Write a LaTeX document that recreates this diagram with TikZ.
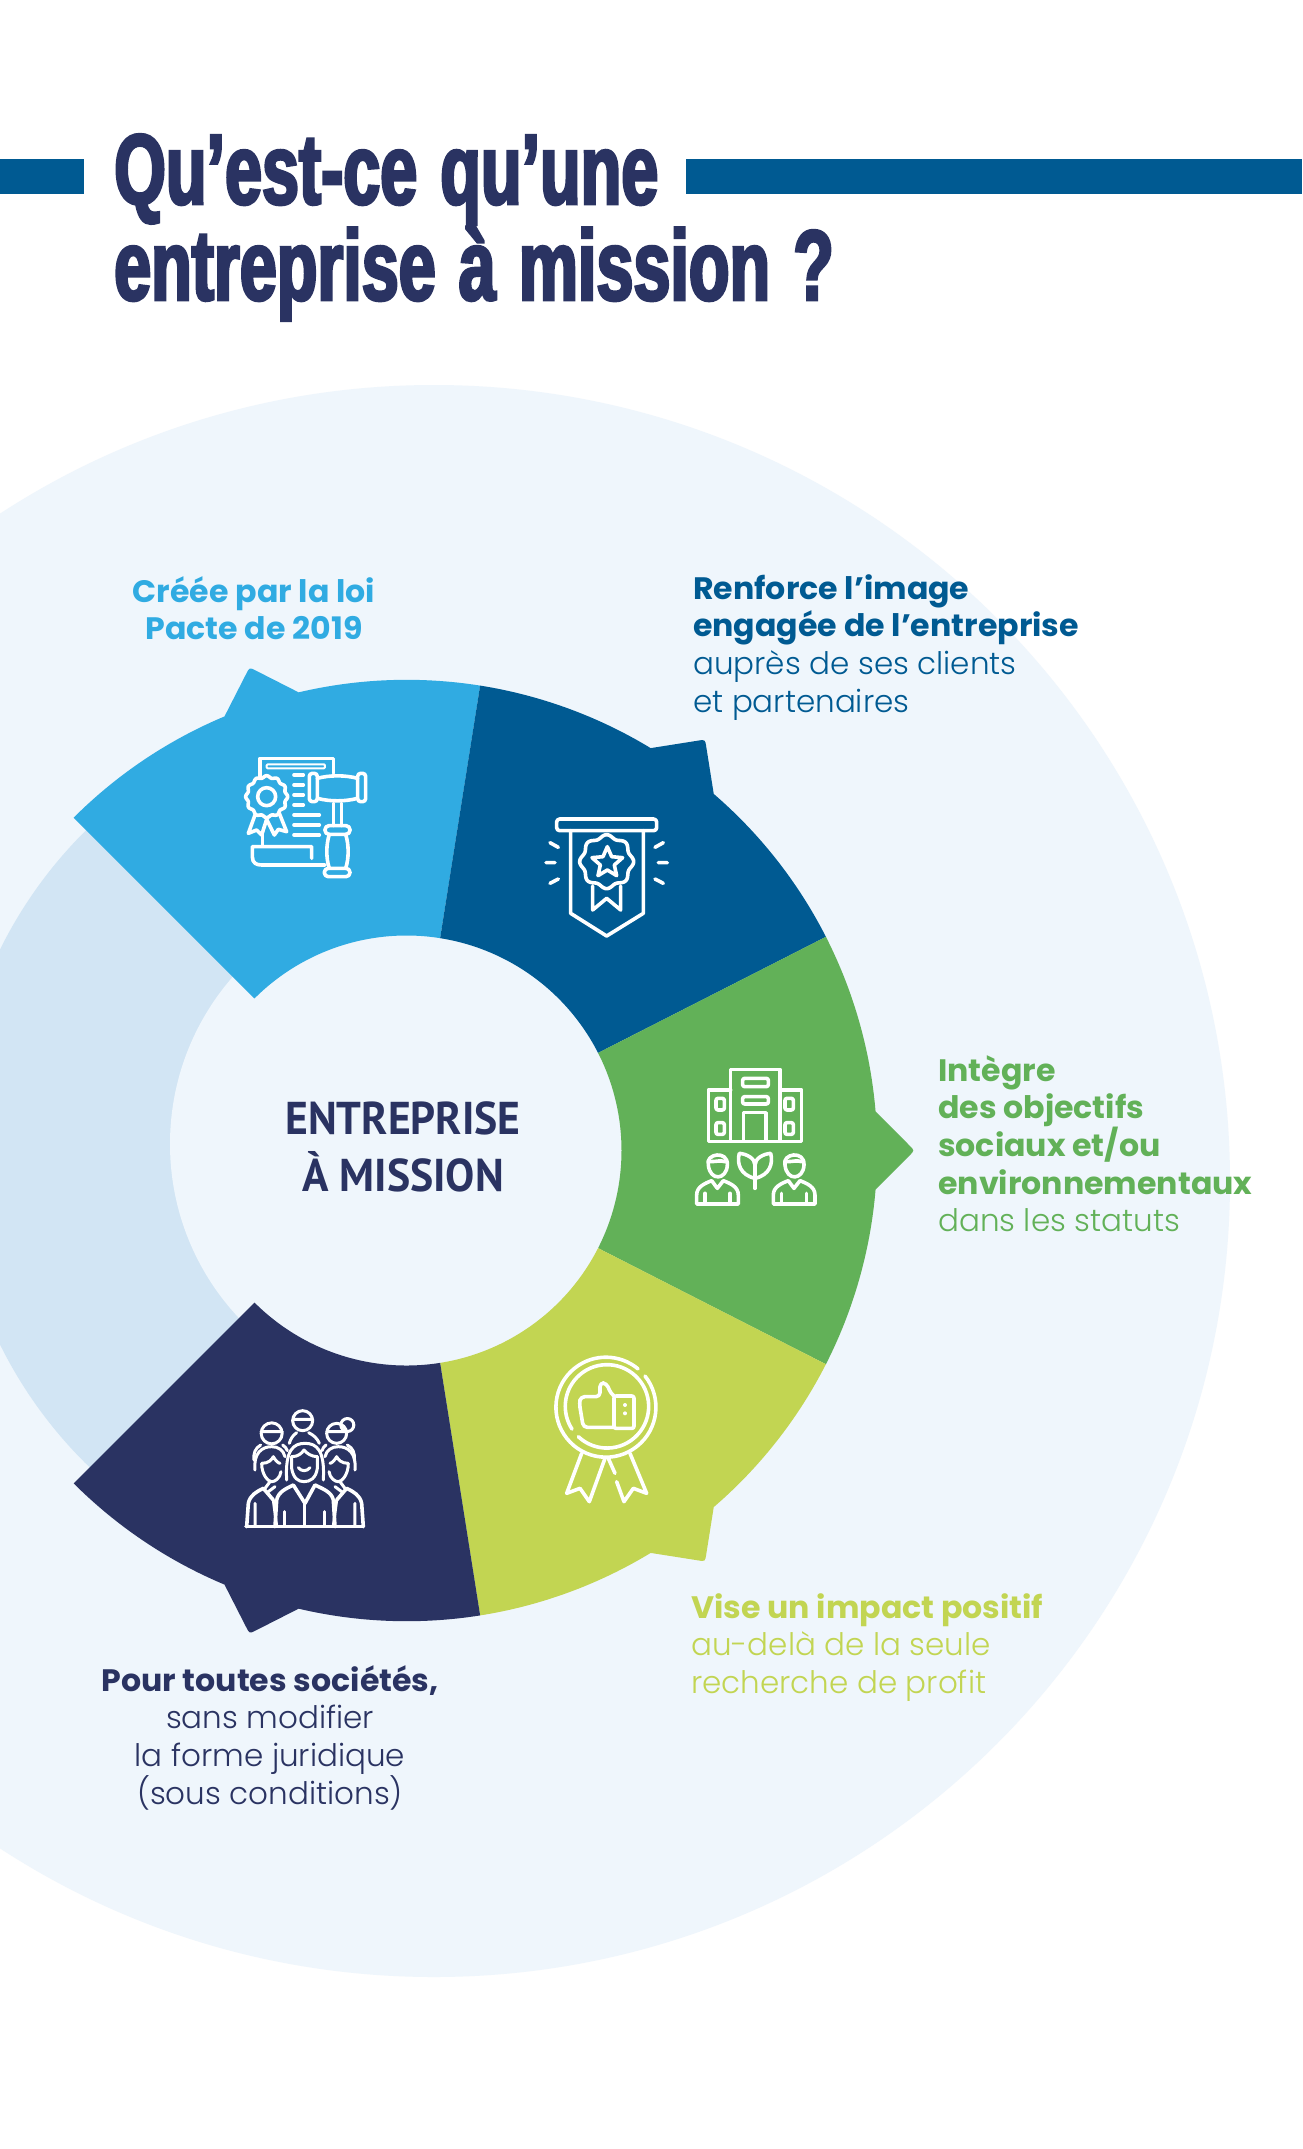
\documentclass[tikz,border=0pt]{standalone}
\usepackage{fontspec}
\usepackage{xcolor}
\usepackage{tikz}
\usetikzlibrary{positioning,calc}
\setmainfont{Poppins}
\newfontfamily\capfont[BoldFont={Poppins Bold},BoldFeatures={FakeStretch=1.02}]{Poppins Light}
\newfontfamily\titlefont[FakeStretch=0.665,FakeBold=2.8,WordSpace=1.25]{Liberation Sans Bold}
\newfontfamily\centerfont[FakeStretch=0.95]{PT Sans Bold}
\definecolor{barblue}{HTML}{005A92}
\definecolor{navyblue}{HTML}{2A3362}
\definecolor{skyblue}{HTML}{30ABE2}
\definecolor{leafgreen}{HTML}{62B158}
\definecolor{limegreen}{HTML}{C2D552}
\definecolor{paleback}{HTML}{EFF6FC}
\definecolor{palering}{HTML}{D2E5F4}

\begin{document}
\begin{tikzpicture}[
    x=1pt, y=-1pt,
    titletext/.style={anchor=base west, inner sep=0pt, text=navyblue, font=\titlefont\fontsize{100}{100}\selectfont},
    captext/.style={inner sep=0pt, font=\capfont\fontsize{31}{37.7}\selectfont},
    iconline/.style={draw=white, line width=3.6pt, line join=round, line cap=round},
    thinline/.style={iconline, line width=3pt}
]
    \useasboundingbox (0,0) rectangle (1302,2149);
    \fill[white] (0,0) rectangle (1302,2149);

    % background discs
    \fill[paleback] (434,1181) circle[radius=796pt];
    \fill[palering] (400,1147) circle[radius=446pt];
    \fill[paleback] (424,1144) circle[radius=254pt];

    % title
    \fill[barblue] (0,159) rectangle (84,194);
    \fill[barblue] (686,159) rectangle (1302,194);
    \node[titletext] (titleOne) at (114,204) {Qu’est-ce qu’une};
    \node[titletext] (titleTwo) at (114,300) {entreprise à mission ?};

    % five sectors with their tabs
    \foreach \ang/\col in {108/skyblue, 54/barblue, 0/leafgreen, -54/limegreen, -108/navyblue} {
        \begin{scope}[shift={(406.5,1150.5)}, rotate=\ang, y=1pt]
            \fill[\col] (-27:215) -- (-27:470.7)
                arc[start angle=-27, end angle=-4.75, radius=470.7pt]
                -- (503,-5) .. controls (508,0) .. (503,5) -- (4.75:470.7)
                arc[start angle=4.75, end angle=27, radius=470.7pt]
                -- (27:215) arc[start angle=27, end angle=-27, radius=215pt] -- cycle;
        \end{scope}
    }

    \node[align=center, inner sep=0pt, text=navyblue, font=\centerfont\fontsize{46}{57}\selectfont] (hub) at (403,1147) {ENTREPRISE\\À MISSION};

    % captions
    \node[captext, anchor=north, align=center, text=skyblue] (capSky) at (254,576) {\textbf{Créée par la loi}\\\textbf{Pacte de 2019}};
    \node[captext, anchor=north west, align=left, text=barblue] (capDeep) at (693,574) {\textbf{Renforce l’image}\\\textbf{engagée de l’entreprise}\\auprès de ses clients\\et partenaires};
    \node[captext, anchor=north west, align=left, text=leafgreen] (capLeaf) at (938,1055) {\textbf{Intègre}\\\textbf{des objectifs}\\\textbf{sociaux et/ou}\\\textbf{environnementaux}\\dans les statuts};
    \node[captext, anchor=north west, align=left, text=limegreen] (capLime) at (691,1593) {\textbf{Vise un impact positif}\\au-delà de la seule\\recherche de profit};
    \node[captext, anchor=north, align=center, text=navyblue] (capNavy) at (270,1665) {\textbf{Pour toutes sociétés,}\\sans modifier\\la forme juridique\\(sous conditions)};

    % law icon
    \begin{scope}[shift={(220,730)}, x=.3333pt, y=-.3333pt]
        \draw[iconline] (120,140) -- (120,85) -- (340,85) -- (340,130);
        \draw[thinline, line width=2pt, rounded corners=1pt] (140,103) rectangle (315,115);
        \foreach \ly in {135,165,195,225} \draw[iconline] (222,\ly) -- (250,\ly);
        \foreach \ly in {255,285,315} \draw[iconline] (222,\ly) -- (298,\ly);
        \draw[iconline] plot[domain=0:360, samples=121] ({140+(60+3*cos(12*\x))*cos(\x)},{200+(60+3*cos(12*\x))*sin(\x)}) -- cycle;
        \draw[iconline] (140,200) circle[radius=9pt];
        \draw[iconline] (105,255) -- (85,310) -- (110,300) -- (125,315) -- (140,268) -- (163,315) -- (175,298) -- (200,305) -- (178,250);
        \draw[iconline] (128,310) -- (128,348);
        \draw[iconline] (275,385) -- (275,350) -- (97,350) -- (97,380) .. controls (97,400) and (110,405) .. (125,405) -- (315,405);
        \draw[iconline, rounded corners=3pt] (268,130) rectangle (292,215);
        \draw[iconline, rounded corners=3pt] (413,130) rectangle (437,215);
        \draw[iconline] (292,145) .. controls (330,135) and (375,135) .. (413,145);
        \draw[iconline] (292,205) .. controls (330,215) and (375,215) .. (413,205);
        \draw[iconline] (340,220) -- (340,287) (365,220) -- (365,287);
        \draw[iconline, rounded corners=4pt] (315,287) rectangle (390,313);
        \draw[iconline] (328,313) .. controls (318,345) and (318,385) .. (328,415);
        \draw[iconline] (377,313) .. controls (387,345) and (387,385) .. (377,415);
        \draw[iconline, rounded corners=4pt] (313,415) rectangle (390,440);
    \end{scope}

    % banner icon
    \begin{scope}[shift={(530,800)}, x=.3333pt, y=-.3333pt]
        \draw[iconline, rounded corners=3pt] (80,57) rectangle (380,92);
        \draw[iconline] (122,92) -- (122,340) -- (230,408) -- (340,340) -- (340,92);
        \draw[iconline] (188,258) -- (188,330) -- (230,295) -- (272,330) -- (272,258);
        \fill[barblue] (230,185) circle[radius=25pt];
        \draw[iconline] plot[domain=0:360, samples=121] ({230+(76+5*cos(8*\x))*cos(\x)},{185+(76+5*cos(8*\x))*sin(\x)}) -- cycle;
        \draw[iconline] (232,140) -- (245,170) -- (278,173) -- (253,195) -- (260,227) -- (232,210) -- (204,227) -- (211,195) -- (186,173) -- (219,170) -- cycle;
        \draw[iconline] (60,128) -- (85,142) (48,188) -- (75,188) (60,250) -- (85,237);
        \draw[iconline] (400,128) -- (375,142) (412,188) -- (385,188) (400,250) -- (375,237);
    \end{scope}

    % building icon
    \begin{scope}[shift={(680,1050)}, x=.3333pt, y=-.3333pt]
        \draw[iconline] (152,270) -- (152,58) -- (300,58) -- (300,270);
        \draw[iconline] (152,120) -- (85,120) -- (85,275) -- (365,275) -- (365,120) -- (300,120);
        \draw[iconline, rounded corners=2pt] (188,85) rectangle (265,110);
        \draw[iconline, rounded corners=2pt] (188,140) rectangle (265,162);
        \draw[iconline] (190,270) -- (190,188) -- (258,188) -- (258,270);
        \foreach \wx/\wy in {108/145, 108/218, 315/145, 315/218}
            \draw[iconline, rounded corners=2pt] (\wx,\wy) rectangle ($(\wx,\wy)+(25,35)$);
        \foreach \px in {0,230} {
            \begin{scope}[xshift=\px*.3333pt]
                \draw[iconline] (85,345) .. controls (75,310) and (145,300) .. (142,345) .. controls (140,390) and (90,395) .. (85,345);
                \draw[iconline] (90,335) .. controls (110,335) and (120,330) .. (135,335);
                \draw[iconline] (50,462) -- (175,462) -- (175,435) .. controls (175,410) and (150,400) .. (130,392) -- (112,415) -- (95,392) .. controls (75,400) and (50,410) .. (50,435) -- cycle;
                \draw[iconline] (75,430) -- (75,460) (150,430) -- (150,460);
            \end{scope}
        }
        \draw[iconline] (225,385) .. controls (180,375) and (170,340) .. (178,310) .. controls (200,312) and (225,325) .. (225,345) .. controls (225,325) and (250,312) .. (272,310) .. controls (280,340) and (270,375) .. (225,385);
        \draw[iconline] (225,345) -- (225,415);
    \end{scope}

    % thumb icon
    \begin{scope}[shift={(540,1340)}, x=.3333pt, y=-.3333pt]
        \draw[iconline] (315,108) arc[start angle=38.6, end angle=-310, radius=50pt];
        \draw[iconline] (115,290) arc[start angle=226.6, end angle=573, radius=41.7pt];
        \draw[iconline, rounded corners=2pt] (222,168) rectangle (282,265);
        \fill[white] (255,195) circle[radius=2pt] (255,220) circle[radius=2pt];
        \draw[iconline, rounded corners=4pt] (222,168) -- (212,160) -- (200,130) -- (180,128) -- (180,170) -- (122,170) -- (118,190) -- (130,262) -- (222,262);
        \draw[iconline] (125,340) -- (80,460) -- (120,445) -- (148,485) -- (195,355);
        \draw[iconline] (270,340) -- (320,460) -- (280,445) -- (252,485) -- (230,425);
        \draw[iconline] (205,355) -- (225,400);
    \end{scope}

    % people icon
    \begin{scope}[shift={(230,1400)}, x=.3333pt, y=-.3333pt]
        \draw[iconline] (48,380) -- (400,380);
        \draw[thinline] (125,100) circle[radius=10.5pt] (93,95) -- (157,95);
        \draw[thinline] (218,62) circle[radius=10pt] (188,58) -- (248,58);
        \draw[thinline] (320,100) circle[radius=10pt] (290,95) -- (350,95);
        \draw[thinline] (352,75) circle[radius=6.5pt];
        \draw[thinline] (92,135) .. controls (75,145) and (70,160) .. (72,180) (158,135) .. controls (165,140) and (170,145) .. (172,152);
        \draw[thinline] (178,130) .. controls (182,115) and (190,105) .. (200,98) (236,98) .. controls (250,105) and (262,115) .. (268,130);
        \draw[thinline] (288,135) .. controls (282,140) and (278,145) .. (276,152) (352,135) .. controls (370,145) and (375,160) .. (373,180);
        \draw[thinline] (170,240) .. controls (165,150) and (190,130) .. (225,130) .. controls (260,130) and (285,150) .. (280,240);
        \draw[thinline] (185,170) -- (185,205) .. controls (190,235) and (205,245) .. (222,245) .. controls (240,245) and (258,235) .. (262,205) -- (262,170);
        \draw[thinline] (185,170) .. controls (205,170) and (215,160) .. (222,150) .. controls (230,160) and (245,170) .. (262,170);
        \draw[thinline] (205,203) .. controls (215,215) and (230,215) .. (240,203);
        \draw[iconline] (135,380) -- (140,300) .. controls (145,275) and (170,265) .. (190,255) -- (225,310) -- (255,255) .. controls (275,265) and (305,275) .. (310,300) -- (315,380);
        \draw[thinline] (225,310) -- (225,378) (165,335) -- (165,378) (285,335) -- (285,378);
        \foreach \sx/\sgn in {125/1, 325/-1} {
            \begin{scope}[shift={(\sx,0)}, x=\sgn*.3333pt]
                \draw[thinline] (-50,210) .. controls (-55,160) and (-30,140) .. (0,140) .. controls (20,140) and (35,150) .. (40,170);
                \draw[thinline] (-30,190) .. controls (-10,190) and (0,180) .. (5,170) .. controls (10,180) and (20,190) .. (25,190) (-30,190) .. controls (-30,225) and (-10,245) .. (0,245) .. controls (10,245) and (25,235) .. (28,215);
                \draw[iconline] (-75,380) -- (-70,310) .. controls (-65,285) and (-45,275) .. (-25,265) -- (5,300);
                \draw[thinline] (-50,310) -- (-50,378) (5,300) -- (15,378) (-20,265) -- (-5,245) (-10,275) -- (10,260);
            \end{scope}
        }
    \end{scope}
\end{tikzpicture}
\end{document}
